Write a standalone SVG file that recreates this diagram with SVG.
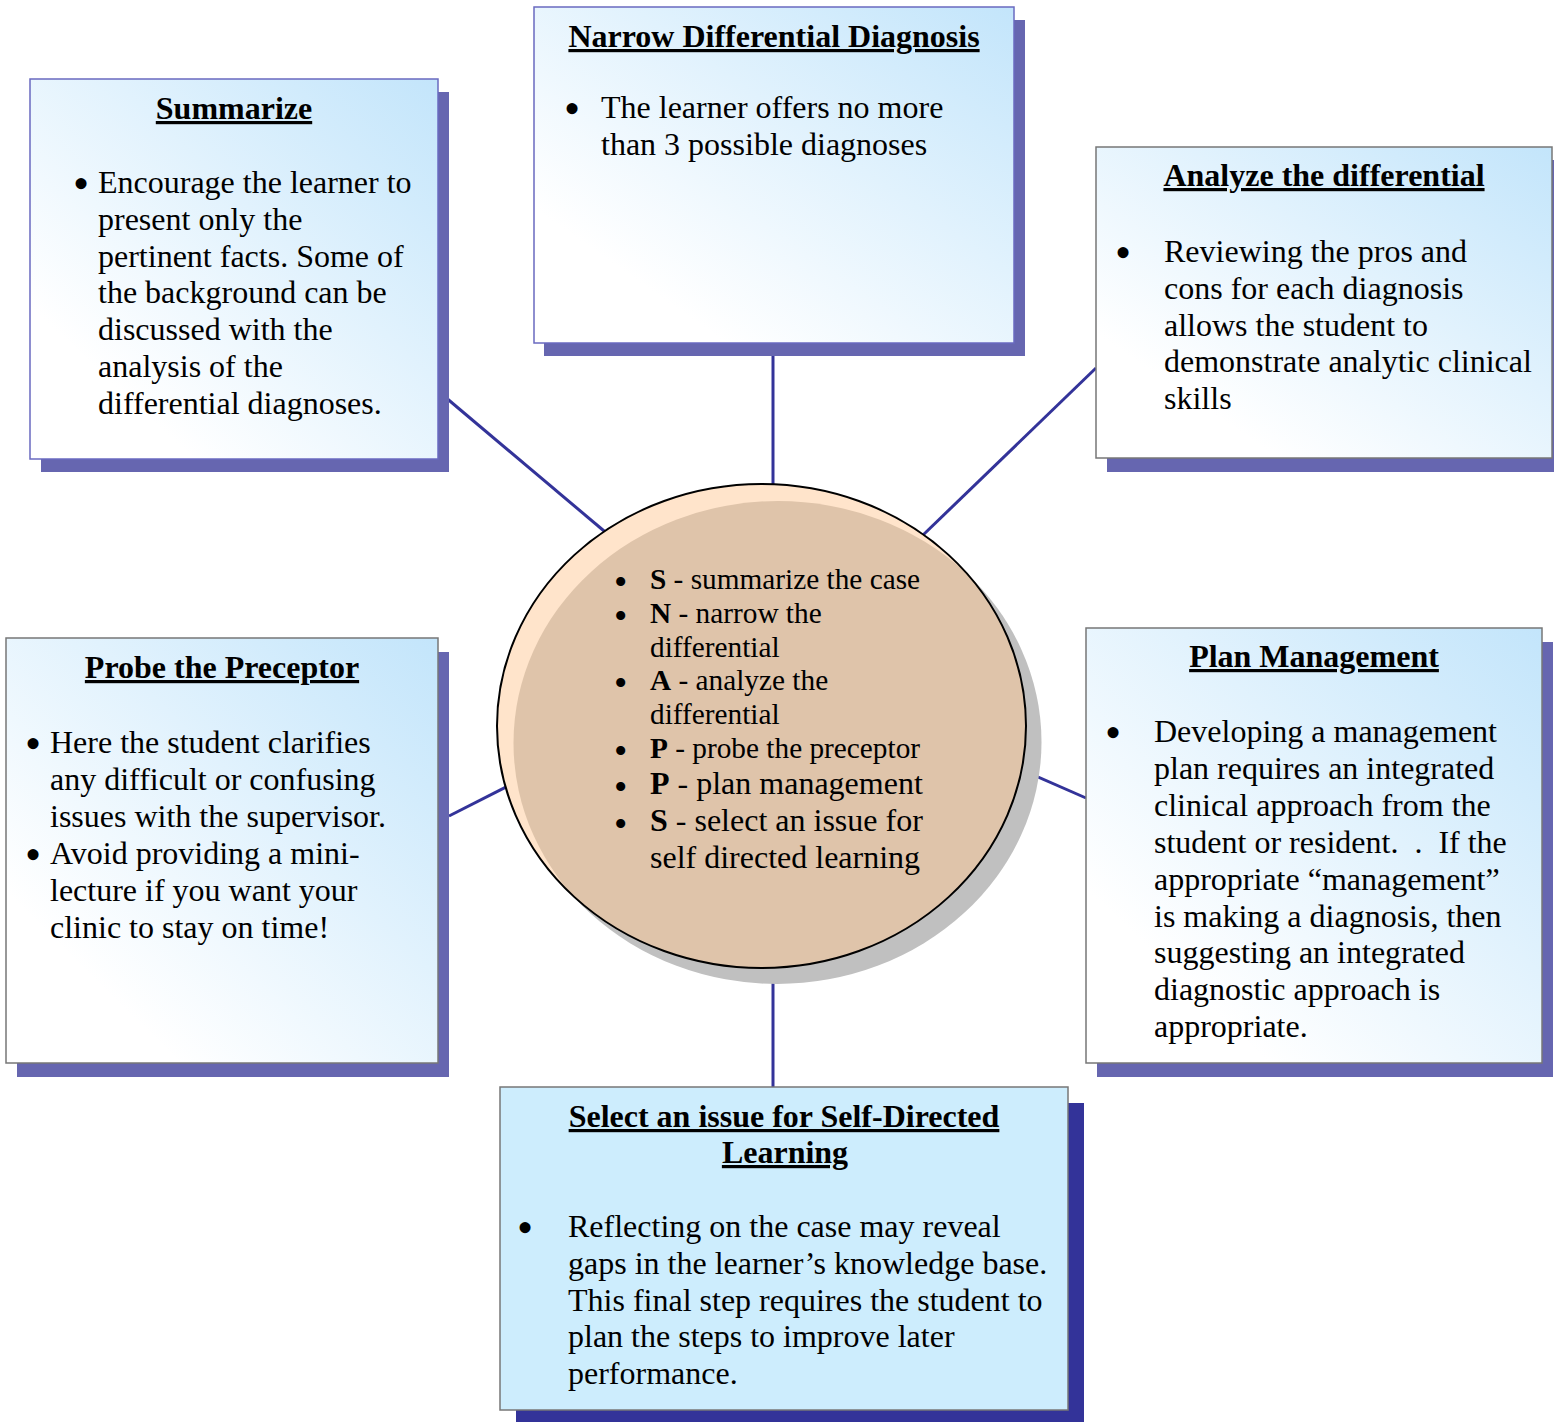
<svg xmlns="http://www.w3.org/2000/svg" width="1554" height="1422" viewBox="0 0 1554 1422">
<defs>
<linearGradient id="boxGrad" x1="1" y1="0" x2="0" y2="1">
<stop offset="0" stop-color="#c3e5fb"/>
<stop offset="0.8" stop-color="#ffffff"/>
<stop offset="1" stop-color="#ffffff"/>
</linearGradient>
<clipPath id="circClip"><ellipse cx="761.5" cy="726" rx="264.5" ry="242"/></clipPath>
</defs>
<style>
text{font-family:"Liberation Serif","Times New Roman",serif;fill:#000}
.t{font-size:32px;font-weight:bold;text-decoration:underline;text-decoration-thickness:3px;text-anchor:middle}
.b{font-size:32px}
.c{font-size:29.3px}
.c2{font-size:32px}
.bul{font-size:46px}
.cb{font-size:38px}
.sh{fill:#6666b0}
.bx{fill:url(#boxGrad);stroke:#777;stroke-width:1.5}
.bxb{fill:url(#boxGrad);stroke:#6a6ac0;stroke-width:1.5}
.con{stroke:#333399;stroke-width:3;fill:none}
</style>
<rect width="1554" height="1422" fill="#fff"/>
<g id="connectors">
<line class="con" x1="773" y1="343" x2="773" y2="492"/>
<line class="con" x1="438" y1="391" x2="610" y2="536"/>
<line class="con" x1="1096" y1="368" x2="922" y2="536"/>
<line class="con" x1="449" y1="816" x2="512" y2="784"/>
<line class="con" x1="1086" y1="798" x2="1015" y2="767"/>
<line class="con" x1="773" y1="962" x2="773" y2="1087"/>
</g>
<g id="summarize">
<rect class="sh" x="41" y="92" width="408" height="380"/>
<rect class="bxb" x="30" y="79" width="408" height="380"/>
<text class="t" x="234" y="119">Summarize</text>
<text class="b" x="73" y="193"><tspan class="bul" dy="6">•</tspan><tspan x="98" dy="-6">Encourage the learner to</tspan></text>
<text class="b" x="98" y="229.8">present only the</text>
<text class="b" x="98" y="266.6">pertinent facts. Some of</text>
<text class="b" x="98" y="303.4">the background can be</text>
<text class="b" x="98" y="340.2">discussed with the</text>
<text class="b" x="98" y="377">analysis of the</text>
<text class="b" x="98" y="413.8">differential diagnoses.</text>
</g>
<g id="narrow">
<rect class="sh" x="544" y="20" width="481" height="336"/>
<rect class="bxb" x="534" y="7" width="480" height="336"/>
<text class="t" x="774" y="47">Narrow Differential Diagnosis</text>
<text class="b" x="564" y="118"><tspan class="bul" dy="6">•</tspan><tspan x="601" dy="-6">The learner offers no more</tspan></text>
<text class="b" x="601" y="155">than 3 possible diagnoses</text>
</g>
<g id="analyze">
<rect class="sh" x="1107" y="160" width="447" height="312"/>
<rect class="bx" x="1096" y="147" width="456" height="311"/>
<text class="t" x="1324" y="186">Analyze the differential</text>
<text class="b" x="1115" y="262"><tspan class="bul" dy="6">•</tspan><tspan x="1164" dy="-6">Reviewing the pros and</tspan></text>
<text class="b" x="1164" y="299">cons for each diagnosis</text>
<text class="b" x="1164" y="336">allows the student to</text>
<text class="b" x="1164" y="372">demonstrate analytic clinical</text>
<text class="b" x="1164" y="409">skills</text>
</g>
<g id="probe">
<rect class="sh" x="17" y="652" width="432" height="425"/>
<rect class="bx" x="6" y="638" width="432" height="425"/>
<text class="t" x="222" y="678">Probe the Preceptor</text>
<text class="b" x="25" y="753"><tspan class="bul" dy="6">•</tspan><tspan x="50" dy="-6">Here the student clarifies</tspan></text>
<text class="b" x="50" y="790">any difficult or confusing</text>
<text class="b" x="50" y="827">issues with the supervisor.</text>
<text class="b" x="25" y="864"><tspan class="bul" dy="6">•</tspan><tspan x="50" dy="-6">Avoid providing a mini-</tspan></text>
<text class="b" x="50" y="901">lecture if you want your</text>
<text class="b" x="50" y="938">clinic to stay on time!</text>
</g>
<g id="plan">
<rect class="sh" x="1097" y="642" width="456" height="435"/>
<rect class="bx" x="1086" y="628" width="456" height="435"/>
<text class="t" x="1314" y="667">Plan Management</text>
<text class="b" x="1105" y="742"><tspan class="bul" dy="6">•</tspan><tspan x="1154" dy="-6">Developing a management</tspan></text>
<text class="b" x="1154" y="779">plan requires an integrated</text>
<text class="b" x="1154" y="816">clinical approach from the</text>
<text class="b" x="1154" y="853" xml:space="preserve">student or resident.  .  If the</text>
<text class="b" x="1154" y="890">appropriate “management”</text>
<text class="b" x="1154" y="927">is making a diagnosis, then</text>
<text class="b" x="1154" y="963">suggesting an integrated</text>
<text class="b" x="1154" y="1000">diagnostic approach is</text>
<text class="b" x="1154" y="1037">appropriate.</text>
</g>
<g id="select">
<rect x="516" y="1103" width="568" height="319" fill="#333399"/>
<rect x="500" y="1087" width="568" height="323" fill="#cdedfd" stroke="#777" stroke-width="1.5"/>
<text class="t" x="784" y="1127">Select an issue for Self-Directed</text>
<text class="t" x="785" y="1163">Learning</text>
<text class="b" x="517" y="1237"><tspan class="bul" dy="6">•</tspan><tspan x="568" dy="-6">Reflecting on the case may reveal</tspan></text>
<text class="b" x="568" y="1274">gaps in the learner’s knowledge base.</text>
<text class="b" x="568" y="1311">This final step requires the student to</text>
<text class="b" x="568" y="1347">plan the steps to improve later</text>
<text class="b" x="568" y="1384">performance.</text>
</g>
<g id="center">
<ellipse cx="777" cy="742" rx="264.5" ry="242" fill="#c0c0c0"/>
<ellipse cx="761.5" cy="726" rx="264.5" ry="242" fill="#ffe4cb"/>
<ellipse cx="778" cy="743" rx="264.5" ry="242" fill="#dfc4aa" clip-path="url(#circClip)"/>
<ellipse cx="761.5" cy="726" rx="264.5" ry="242" fill="none" stroke="#000" stroke-width="2"/>
<text class="c" x="614" y="589"><tspan class="cb" dy="6">•</tspan><tspan x="650" dy="-6" font-weight="bold">S</tspan> - summarize the case</text>
<text class="c" x="614" y="623"><tspan class="cb" dy="6">•</tspan><tspan x="650" dy="-6" font-weight="bold">N</tspan> - narrow the</text>
<text class="c" x="650" y="656.5">differential</text>
<text class="c" x="614" y="690"><tspan class="cb" dy="6">•</tspan><tspan x="650" dy="-6" font-weight="bold">A</tspan> - analyze the</text>
<text class="c" x="650" y="724">differential</text>
<text class="c" x="614" y="757.5"><tspan class="cb" dy="6">•</tspan><tspan x="650" dy="-6" font-weight="bold">P</tspan> - probe the preceptor</text>
<text class="c2" x="614" y="794"><tspan class="cb" dy="6">•</tspan><tspan x="650" dy="-6" font-weight="bold">P</tspan> - plan management</text>
<text class="c2" x="614" y="831"><tspan class="cb" dy="6">•</tspan><tspan x="650" dy="-6" font-weight="bold">S</tspan> - select an issue for</text>
<text class="c2" x="650" y="868">self directed learning</text>
</g>
</svg>
